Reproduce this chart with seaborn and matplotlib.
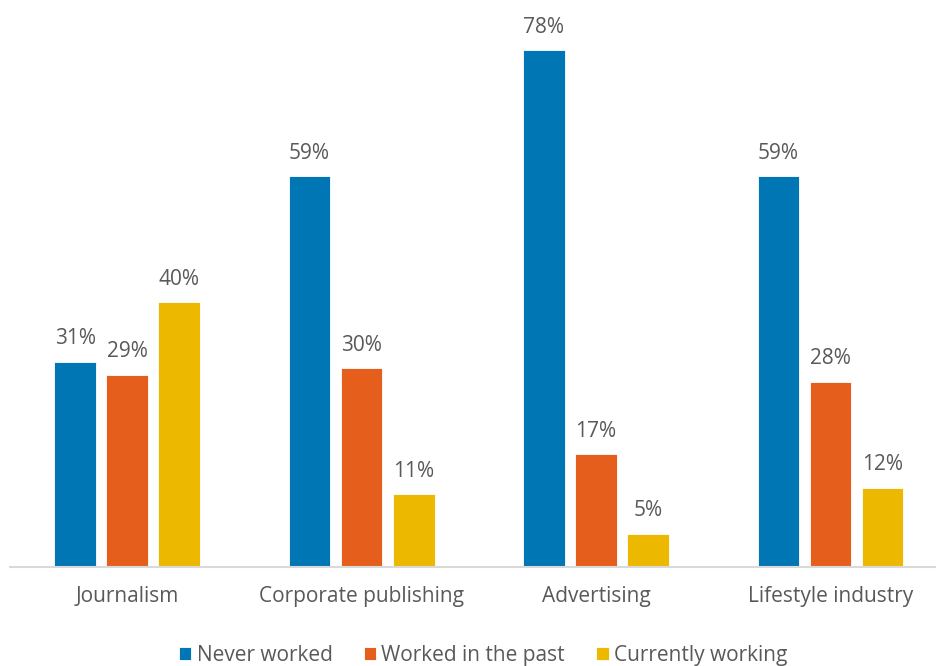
import matplotlib
matplotlib.use("Agg")
import matplotlib.pyplot as plt
import seaborn as sns
import pandas as pd

categories = ["Journalism", "Corporate publishing", "Advertising", "Lifestyle industry"]
series = ["Never worked", "Worked in the past", "Currently working"]
never_worked = [31, 59, 78, 59]
worked_in_past = [29, 30, 17, 28]
currently_working = [40, 11, 5, 12]
colors = ["#0076B5", "#E65E1B", "#EDB800"]

rows = []
for name, vals in zip(series, [never_worked, worked_in_past, currently_working]):
    for cat, v in zip(categories, vals):
        rows.append({"category": cat, "status": name, "share": v})
df = pd.DataFrame(rows)

sns.set_theme(style="white")
plt.rcParams["font.family"] = ["Open Sans", "DejaVu Sans"]
text_color = "#595959"

fig = plt.figure(figsize=(9.36, 6.66), dpi=100)
ax = fig.add_axes([10 / 936, 99 / 666, 926 / 936, 563 / 666])

sns.barplot(data=df, x="category", y="share", hue="status", order=categories,
            hue_order=series, palette=colors, saturation=1, width=0.667, gap=0.2,
            edgecolor="white", linewidth=0.6, ax=ax, legend=True)

for container in ax.containers:
    labels = [f"{int(round(b.get_height()))}%" for b in container]
    ax.bar_label(container, labels=labels, padding=9, fontsize=15, color=text_color)

ax.set_xlim(-0.5, 3.45)
ax.set_ylim(0, 85)
ax.set_xlabel("")
ax.set_ylabel("")
ax.set_yticks([])
ax.tick_params(axis="x", length=0, labelsize=15, labelcolor=text_color, pad=14)
for side in ["top", "right", "left"]:
    ax.spines[side].set_visible(False)
ax.spines["bottom"].set_color("#D9D9D9")
ax.spines["bottom"].set_linewidth(1.5)

handles, labels = ax.get_legend_handles_labels()
ax.legend(handles, labels, loc="lower center", bbox_to_anchor=(0.511, -0.19),
          ncol=3, frameon=False, fontsize=15, labelcolor=text_color,
          handlelength=0.6, handleheight=0.6, handletextpad=0.25,
          columnspacing=1.5, borderaxespad=0)

fig.savefig("out.png", dpi=100)
